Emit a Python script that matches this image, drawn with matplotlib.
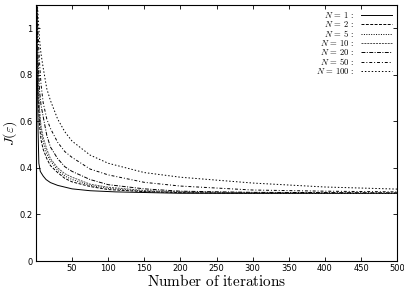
import matplotlib
matplotlib.use('Agg')
import matplotlib.pyplot as plt

plt.rcParams['mathtext.fontset'] = 'cm'

iters_1 = [1, 2, 3, 4, 6, 10, 14, 20, 30, 50, 75, 110, 200, 500]
J_1 = [1.12, 0.80, 0.55, 0.42, 0.385, 0.365, 0.35, 0.337, 0.325, 0.31, 0.302, 0.297, 0.291, 0.29]

iters = [1, 2, 3, 5, 7, 10, 15, 20, 30, 40, 50, 75, 100, 150, 200, 300, 400, 500]
J_2 = [1.12, 0.85, 0.70, 0.58, 0.52, 0.48, 0.44, 0.41, 0.38, 0.355, 0.34, 0.32, 0.307, 0.298, 0.294, 0.291, 0.29, 0.29]
J_5 = [1.12, 0.90, 0.75, 0.62, 0.56, 0.51, 0.46, 0.43, 0.39, 0.365, 0.35, 0.325, 0.312, 0.30, 0.295, 0.292, 0.291, 0.29]
J_10 = [1.12, 0.93, 0.79, 0.65, 0.58, 0.53, 0.48, 0.44, 0.40, 0.375, 0.36, 0.33, 0.317, 0.303, 0.297, 0.293, 0.292, 0.291]
J_20 = [1.12, 0.98, 0.86, 0.73, 0.67, 0.62, 0.54, 0.49, 0.44, 0.405, 0.385, 0.35, 0.328, 0.31, 0.30, 0.295, 0.294, 0.293]
J_50 = [1.12, 1.05, 0.97, 0.85, 0.76, 0.68, 0.61, 0.57, 0.51, 0.47, 0.445, 0.395, 0.37, 0.338, 0.322, 0.305, 0.30, 0.297]
J_100 = [1.12, 1.10, 1.05, 0.95, 0.89, 0.83, 0.74, 0.69, 0.61, 0.555, 0.515, 0.455, 0.42, 0.38, 0.36, 0.335, 0.318, 0.309]

fig = plt.figure(figsize=(4.04, 2.91), dpi=100)
ax = fig.add_axes([0.089, 0.103, 0.894, 0.880])

lw = 0.7
ax.plot(iters_1, J_1, color='black', lw=lw, ls='-', label=r'$N\,=\,1\,:$')
ax.plot(iters, J_2, color='black', lw=lw, ls=(0, (3, 1.5)), label=r'$N\,=\,2\,:$')
ax.plot(iters, J_5, color='black', lw=lw, ls=(0, (1, 1.5)), label=r'$N\,=\,5\,:$')
ax.plot(iters, J_10, color='0.3', lw=lw, ls=(0, (2, 1)), label=r'$N\,=\,10\,:$')
ax.plot(iters, J_20, color='black', lw=lw, ls=(0, (4, 1.5, 1, 1.5)), label=r'$N\,=\,20\,:$')
ax.plot(iters, J_50, color='black', lw=lw, ls=(0, (3, 2, 1, 2)), label=r'$N\,=\,50\,:$')
ax.plot(iters, J_100, color='black', lw=lw, ls=(0, (1.5, 2)), label=r'$N\,=\,100\,:$')

ax.set_xlim(0, 500)
ax.set_ylim(0, 1.1)
ax.set_xticks(range(50, 501, 50))
ax.set_yticks([0, 0.2, 0.4, 0.6, 0.8, 1])
ax.set_yticklabels(['0', '0.2', '0.4', '0.6', '0.8', '1'])
ax.tick_params(direction='in', top=True, right=True, labelsize=6, length=3,
               width=0.6, pad=2.5)
for s in ax.spines.values():
    s.set_linewidth(0.8)

ax.set_xlabel(r'$\mathrm{Number\ of\ iterations}$', fontsize=11, labelpad=0)
ax.set_ylabel(r'$J(\varepsilon)$', fontsize=10, labelpad=0)

ax.legend(loc='upper right', frameon=False, markerfirst=False, fontsize=6.2,
          handlelength=3.6, labelspacing=-0.12, handletextpad=0.8,
          borderaxespad=0.3, borderpad=0.3)

fig.savefig('out.png', dpi=100)
